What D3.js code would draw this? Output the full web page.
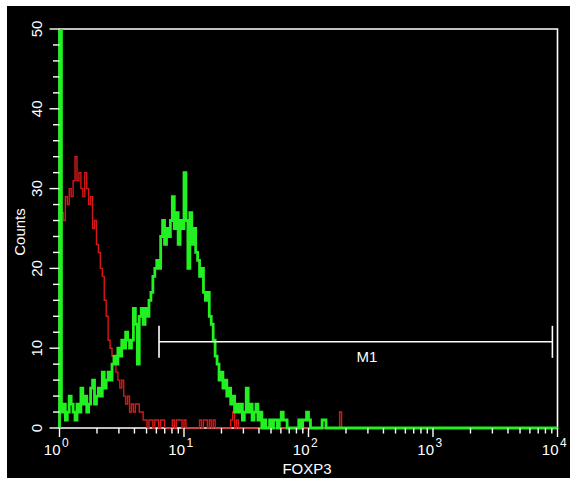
<!DOCTYPE html>
<html>
<head>
<meta charset="utf-8" />
<style>
body {
	margin:0;
	background:#fff;
}
text {
	font-family: "Liberation Sans", Arial, sans-serif;
	fill:#fff;
}
</style>
</head>
<body>
<svg id="plansza" width="570" height="478"></svg>
<script src="https://d3js.org/d3.v7.min.js"></script>
<script>

// counts per channel (256 channels over 4 decades), channels not listed are empty
var greenCounts = [60, 2,3,1,2,4,3,2,1,3, 2,5,3,4,2,3,5,6,3,4, 5,4,7,5,6,7,6,8,9,8,
	10,9,11,10,12,11,10,11,15,13, 8,14,15,13,15,14,16,17,19,20, 21,20,24,26,23,25,24,26,29,25,
	27,23,26,25,32,26,20,27,23,25, 22,21,19,20,17,16,17,14,13,11, 9,8,6,7,5,6,4,5,3,4,
	2,3,2,3,1,2,5,2,3,1, 2,3,1,2,0,1,0,0,1,0, 1,1,0,1,2,1,1,0,0,0,
	0,0,0,1,0,1,1,2,1,0, 0,0,0,0,0,1,1,0];
var redCounts = [26, 27,26,29,28,30,29,31,34,31, 32,30,29,32,30,28,29,25,26,23,
	22,20,19,16,14,11,10,9,8,7, 6,5,6,4,3,4,2,3,2,3, 3,2,2,1,1,0,1,1,0,1,
	1,0,1,1,0,0,0,0,1,0, 1,1,1,0,1,0,0,0,0,0, 0,0,1,0,1,1,0,1,0,1,
	0,0,0,0,0,0,0,0,1,2, 0,1,0,0,0,0,0,0,0,0, 0,0,0,0,0,0,0,0,0,0,
	0,0,0,0,0,0,0,0,0,0, 0,0,0,0,0,0,0,0,0,0, 0,0,0,0,0,0,0,0,0,0,
	0,0,0,0,2,0];
var nChannels = 256;

var yTicks = [0, 10, 20, 30, 40, 50];
var xDecades = [0, 1, 2, 3, 4];
var gate = {name:"M1", from:6.3, to:9100, level:10.8};
var xTitle = "FOXP3", yTitle = "Counts";

var pLeft = 59.5, pRight = 557.5, pTop = 29, pBottom = 428;

var svg = d3.select("#plansza");
svg.append("rect").attr("x",7).attr("y",6).attr("width",563).attr("height",472).attr("fill","#000");

var x = d3.scaleLog().domain([1, 10000]).range([pLeft, pRight]);
var y = d3.scaleLinear().domain([0, 50]).range([pBottom, pTop]);

svg.append("defs").append("clipPath").attr("id","zaslona")
	.append("rect").attr("x",pLeft-3).attr("y",pTop).attr("width",pRight-pLeft+6).attr("height",pBottom-pTop+2);

// channel edge -> value on the log axis
var edge = function(i) { return Math.pow(10, i*4/nChannels); };

var histo = function(counts) {
	var pts = [[edge(0), 0]];
	for (var i = 0; i < nChannels; i++)
		pts.push([edge(i), i < counts.length ? counts[i] : 0]);
	pts.push([edge(nChannels), 0]);
	return pts;
};

var line = d3.line()
	.x(function(d) { return x(d[0]); })
	.y(function(d) { return y(d[1]); })
	.curve(d3.curveStepAfter);

// frame
svg.append("path")
	.attr("d","M"+pLeft+","+pBottom+"V"+pTop+"H"+pRight+"V"+pBottom+"Z")
	.attr("fill","none").attr("stroke","#fff").attr("stroke-width",1.6);

var plotno = svg.append("g").attr("clip-path","url(#zaslona)");
plotno.append("path").attr("d", line(histo(redCounts)))
	.attr("fill","none").attr("stroke","#d81818").attr("stroke-width",1.4);
plotno.append("path").attr("d", line(histo(greenCounts)))
	.attr("fill","none").attr("stroke","#22f022").attr("stroke-width",2.8);

// y axis ticks
var yMinor = d3.range(0, 51, 2);
svg.append("g").selectAll("line").data(yMinor).enter().append("line")
	.attr("x1", function(d) { return pLeft - (d % 10 == 0 ? 10 : 6.5); })
	.attr("x2", pLeft)
	.attr("y1", function(d) { return y(d); })
	.attr("y2", function(d) { return y(d); })
	.attr("stroke","#fff").attr("stroke-width",1.4);

svg.append("g").selectAll("text").data(yTicks).enter().append("text")
	.attr("transform", function(d) { return "translate(42," + y(d) + ") rotate(-90)"; })
	.attr("text-anchor","middle")
	.attr("font-size",15)
	.text(function(d) { return d; });

svg.append("text")
	.attr("transform","translate(25,232) rotate(-90)")
	.attr("text-anchor","middle")
	.attr("font-size",15)
	.text(yTitle);

// x axis ticks
var xMinor = [];
xDecades.forEach(function(k) {
	if (k < 4)
		for (var m = 1; m < 10; m++) xMinor.push(m * Math.pow(10, k));
	else
		xMinor.push(Math.pow(10, k));
});
svg.append("g").selectAll("line").data(xMinor).enter().append("line")
	.attr("x1", function(d) { return x(d); })
	.attr("x2", function(d) { return x(d); })
	.attr("y1", pBottom)
	.attr("y2", function(d, i) { return pBottom + (i % 9 == 0 ? 9 : 5.5); })
	.attr("stroke","#fff").attr("stroke-width",1.4);

var xl = svg.append("g").selectAll("g").data(xDecades).enter().append("g");
xl.append("text")
	.attr("x", function(d) { return x(Math.pow(10, d)) + 1; })
	.attr("y", 455)
	.attr("text-anchor","end")
	.attr("font-size",15)
	.text("10");
xl.append("text")
	.attr("x", function(d) { return x(Math.pow(10, d)) + 2.5; })
	.attr("y", 447)
	.attr("font-size",12)
	.text(function(d) { return d; });

svg.append("text")
	.attr("x",307).attr("y",474)
	.attr("text-anchor","middle")
	.attr("font-size",15)
	.text(xTitle);

// marker M1
var gm = svg.append("g").attr("stroke","#fff").attr("stroke-width",1.6);
gm.append("line").attr("x1",x(gate.from)).attr("x2",x(gate.to))
	.attr("y1",y(gate.level)).attr("y2",y(gate.level));
[gate.from, gate.to].forEach(function(v) {
	gm.append("line").attr("x1",x(v)).attr("x2",x(v))
		.attr("y1",y(gate.level)-16).attr("y2",y(gate.level)+16);
});
svg.append("text")
	.attr("x",367).attr("y",362)
	.attr("text-anchor","middle")
	.attr("font-size",15)
	.text(gate.name);

</script>
</body>
</html>
